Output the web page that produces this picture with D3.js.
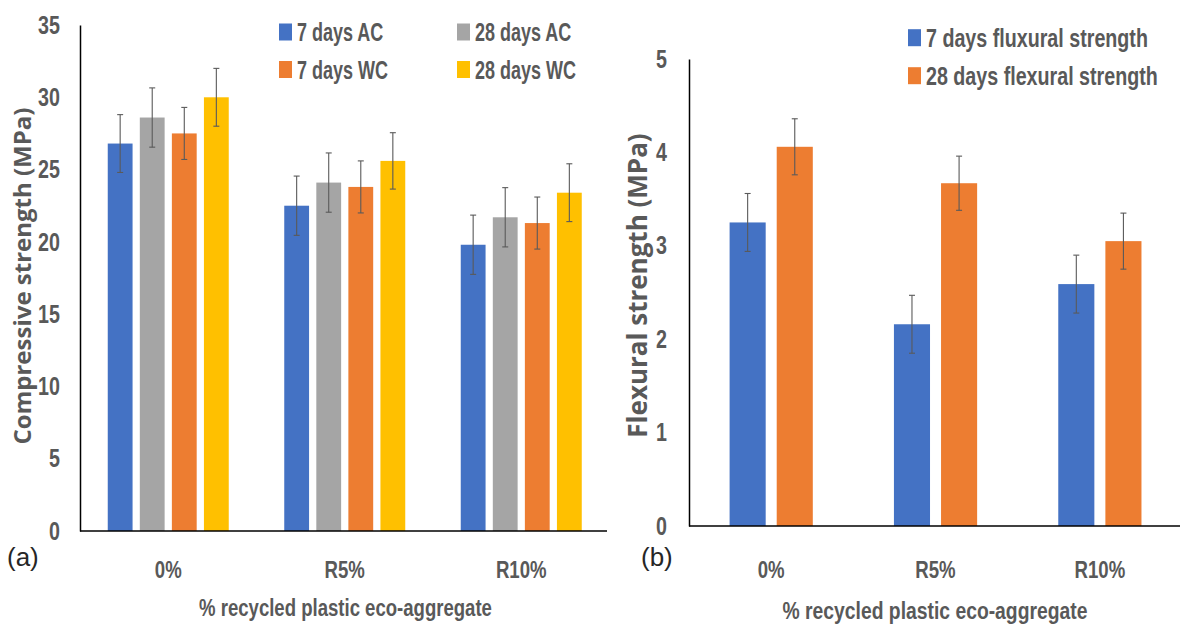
<html>
<head>
  <meta charset="utf-8">
  <title>Compressive and flexural strength</title>
  <style>
    body { margin: 0; background: #fff; }
    .narrow { font-family: "Liberation Sans", Arial, sans-serif; font-weight: bold; fill: #595959; }
    .ytitle { font-family: "Open Sans", "DejaVu Sans", sans-serif; font-weight: bold; fill: #595959; }
    .panel { font-family: "Liberation Sans", Arial, sans-serif; fill: #262626; }
  </style>
  <script src="https://d3js.org/d3.v7.min.js"></script>
</head>
<body>
  <div id="chart"></div>
  <script>
    // categories and series
    var categories = ["0%", "R5%", "R10%"];
    var compSeries = ["7 days AC", "28 days AC", "7 days WC", "28 days WC"];
    var flexSeries = ["7 days fluxural strength", "28 days flexural strength"];

    // compressive strength (MPa) and error bars
    var comp7AC = [26.8, 22.5, 19.8];
    var comp28AC = [28.6, 24.1, 21.7];
    var comp7WC = [27.5, 23.8, 21.3];
    var comp28WC = [30.0, 25.6, 23.4];
    var comp7ACErr = [2.0, 2.05, 2.05];
    var comp28ACErr = [2.05, 2.05, 2.05];
    var comp7WCErr = [1.8, 1.8, 1.8];
    var comp28WCErr = [2.0, 1.95, 2.0];

    // flexural strength (MPa) and error bars
    var flex7 = [3.25, 2.16, 2.59];
    var flex28 = [4.06, 3.67, 3.05];
    var flex7Err = [0.31, 0.31, 0.31];
    var flex28Err = [0.3, 0.29, 0.3];

    var compTicks = [0, 5, 10, 15, 20, 25, 30, 35];
    var flexTicks = [0, 1, 2, 3, 4, 5];

    var compColors = ["#4472C4", "#A5A5A5", "#ED7D31", "#FFC000"];
    var flexColors = ["#4472C4", "#ED7D31"];

    var svg = d3.select("#chart").append("svg")
        .attr("width", 1180)
        .attr("height", 626);

    // squeeze text horizontally (about its own x) to look like a narrow face
    function condense(sel, f) {
      sel.each(function() {
        var t = d3.select(this);
        var x = +t.attr("x") || 0;
        t.attr("transform", "translate(" + x + ",0) scale(" + f + ",1) translate(" + (-x) + ",0)");
      });
    }

    // build rows of {cat, series, value, err}
    function rows(seriesNames, values, errs) {
      var out = [];
      categories.forEach(function(c, i) {
        seriesNames.forEach(function(s, j) {
          out.push({ cat: c, series: s, value: values[j][i], err: errs[j][i], k: j });
        });
      });
      return out;
    }

    function drawPanel(opt) {
      var g = svg.append("g");
      var x0 = d3.scaleBand().domain(categories).range(opt.xRange);
      var x1 = d3.scaleBand().domain(opt.series).range(opt.innerRange).paddingInner(opt.pad);
      var y = d3.scaleLinear().domain(opt.yDomain).range(opt.yRange);

      var data = rows(opt.series, opt.values, opt.errs);

      // bars
      g.selectAll("rect.bar")
          .data(data)
          .enter().append("rect")
          .attr("class", "bar")
          .attr("x", function(d) { return x0(d.cat) + x1(d.series); })
          .attr("y", function(d) { return y(d.value); })
          .attr("width", x1.bandwidth())
          .attr("height", function(d) { return y(0) - y(d.value); })
          .attr("fill", function(d) { return opt.colors[d.k]; });

      // error bars
      var eb = g.selectAll("g.err")
          .data(data)
          .enter().append("g")
          .attr("class", "err")
          .attr("stroke", "#5a5a5a")
          .attr("stroke-width", 1.1);
      function cx(d) { return x0(d.cat) + x1(d.series) + x1.bandwidth() / 2; }
      eb.append("line")
          .attr("x1", cx).attr("x2", cx)
          .attr("y1", function(d) { return y(d.value + d.err); })
          .attr("y2", function(d) { return y(d.value - d.err); });
      [1, -1].forEach(function(s) {
        eb.append("line")
            .attr("x1", function(d) { return cx(d) - 3; })
            .attr("x2", function(d) { return cx(d) + 3; })
            .attr("y1", function(d) { return y(d.value + s * d.err); })
            .attr("y2", function(d) { return y(d.value + s * d.err); });
      });

      // y axis
      var ya = g.append("g")
          .attr("transform", "translate(" + opt.xRange[0] + ",0)")
          .call(d3.axisLeft(y).tickValues(opt.ticks).tickFormat(d3.format("d")).tickSize(0).tickPadding(opt.yPad));
      ya.attr("font-family", null).attr("font-size", null);
      ya.select(".domain").attr("stroke", "#000").attr("stroke-width", 1.5);
      ya.selectAll("text").attr("class", "narrow").style("font-size", "25.5px").attr("fill", null)
          .call(condense, 0.772);

      // x axis
      var xa = g.append("g")
          .attr("transform", "translate(0," + y(0) + ")")
          .call(d3.axisBottom(x0).tickSize(0).tickPadding(opt.xPad));
      xa.attr("font-family", null).attr("font-size", null);
      xa.select(".domain").attr("stroke", "#000").attr("stroke-width", 1.5)
          .attr("d", "M" + opt.xRange[0] + ",0H" + opt.xEnd);
      xa.selectAll("text").attr("class", "narrow").style("font-size", "24.5px").attr("fill", null)
          .call(condense, 0.76);

      // axis titles
      g.append("text")
          .attr("class", "ytitle")
          .attr("transform", "translate(" + opt.yTitle[0] + "," + opt.yTitle[1] + ") rotate(-90)")
          .attr("text-anchor", "middle")
          .attr("dy", "0.35em")
          .style("font-size", opt.yTitleSize + "px")
          .text(opt.yLabel);

      g.append("text")
          .attr("class", "narrow")
          .attr("x", opt.xTitle[0])
          .attr("y", opt.xTitle[1])
          .attr("text-anchor", "middle")
          .style("font-size", "24.5px")
          .text("% recycled plastic eco-aggregate")
          .call(condense, opt.xTitleF);

      // panel tag
      g.append("text")
          .attr("class", "panel")
          .attr("x", opt.tag[0])
          .attr("y", opt.tag[1])
          .style("font-size", "26px")
          .text(opt.tagText);

      // legend
      var lg = g.selectAll("g.legend")
          .data(opt.series)
          .enter().append("g")
          .attr("class", "legend")
          .attr("transform", function(d, i) { return "translate(" + opt.legendPos(i) + ")"; });
      lg.append("rect")
          .attr("x", 0).attr("y", -8.5)
          .attr("width", 13).attr("height", 17)
          .attr("fill", function(d, i) { return opt.colors[i]; });
      lg.append("text")
          .attr("class", "narrow")
          .attr("x", 18)
          .attr("dy", "0.36em")
          .style("font-size", "25.5px")
          .text(function(d) { return d; })
          .call(condense, opt.legendF);
    }

    // (a) compressive strength
    drawPanel({
      series: compSeries,
      values: [comp7AC, comp28AC, comp7WC, comp28WC],
      errs: [comp7ACErr, comp28ACErr, comp7WCErr, comp28WCErr],
      colors: compColors,
      xRange: [80, 609.5], xEnd: 607,
      innerRange: [27.75, 148.75], pad: 0.226,
      yDomain: [0, 35], yRange: [531, 25],
      ticks: compTicks, yPad: 20, xPad: 30,
      yLabel: "Compressive strength (MPa)", yTitle: [23, 276], yTitleSize: 24,
      xTitle: [345.5, 616], xTitleF: 0.758,
      tag: [7, 566], tagText: "(a)",
      legendF: 0.706,
      legendPos: function(i) { return [279 + (i % 2) * 178, 32 + Math.floor(i / 2) * 37.5]; }
    });

    // (b) flexural strength
    drawPanel({
      series: flexSeries,
      values: [flex7, flex28],
      errs: [flex7Err, flex28Err],
      colors: flexColors,
      xRange: [689, 1182], xEnd: 1180,
      innerRange: [40.6, 123.8], pad: 0.234,
      yDomain: [0, 5], yRange: [526, 59],
      ticks: flexTicks, yPad: 22, xPad: 35,
      yLabel: "Flexural strength (MPa)", yTitle: [638, 285.5], yTitleSize: 26,
      xTitle: [935, 619], xTitleF: 0.789,
      tag: [641, 566], tagText: "(b)",
      legendF: 0.772,
      legendPos: function(i) { return [908, 37.7 + i * 38]; }
    });
  </script>
</body>
</html>
